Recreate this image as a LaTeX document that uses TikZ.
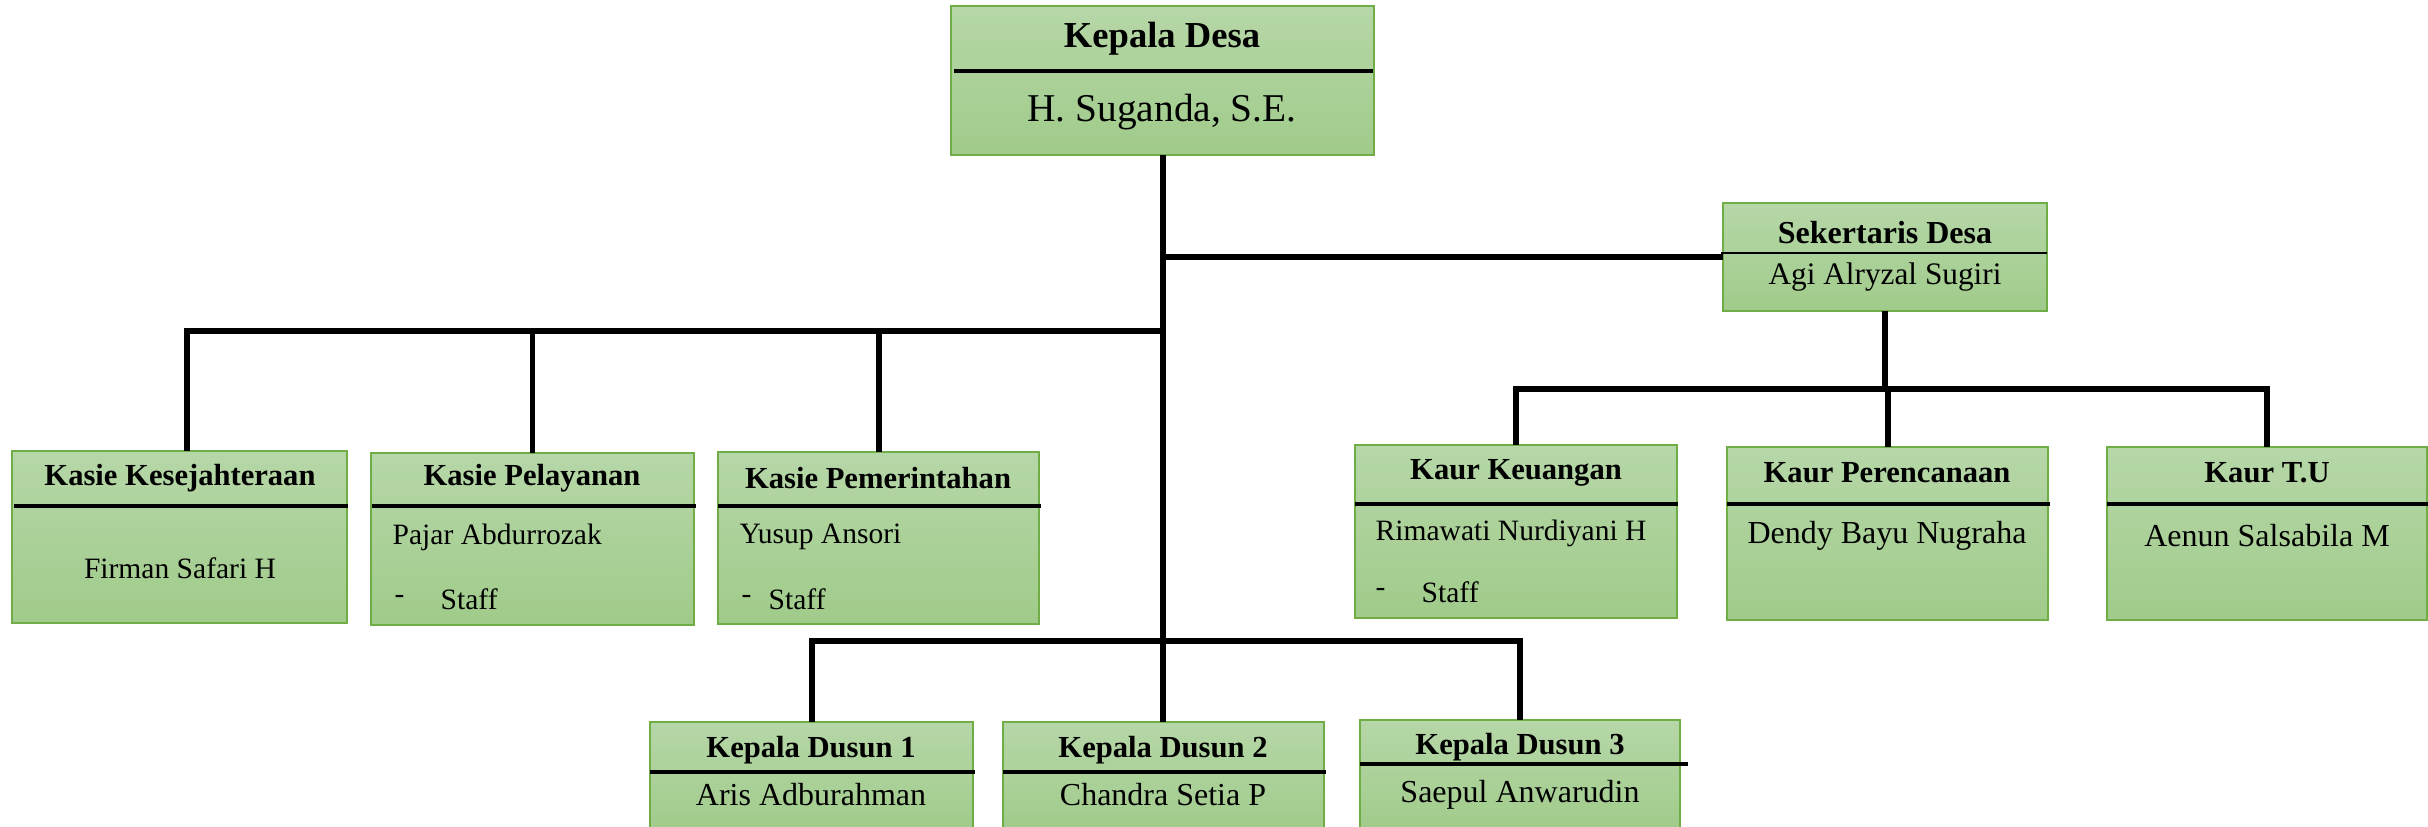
\documentclass[tikz,border=0pt]{standalone}
\usepackage{fontspec}
\setmainfont{Liberation Serif}
\usepackage{tikz}
\definecolor{boxtop}{RGB}{182,215,168}
\definecolor{boxbot}{RGB}{160,203,138}
\definecolor{boxedge}{RGB}{112,173,71}
\tikzstyle{unit}=[
    rectangle,
    draw=boxedge,
    line width=0.45pt,
    top color=boxtop,
    bottom color=boxbot,
    inner sep=0pt,
    outer sep=0pt]
\tikzstyle{link}=[draw=black, line width=1.7pt]
\tikzstyle{rule}=[draw=black, line width=0.95pt]
\tikzstyle{head}=[inner sep=0pt, text=black, font=\bfseries\fontsize{8.7}{10}\selectfont]
\tikzstyle{who}=[inner sep=0pt, text=black, font=\fontsize{8.4}{10}\selectfont]
\tikzstyle{whoc}=[who, font=\fontsize{9.1}{11}\selectfont]

\begin{document}
\begin{tikzpicture}[x=0.01cm, y=-0.01cm]
    \useasboundingbox (0,0) rectangle (2428,826);
    \clip (0,0) rectangle (2428,826);

    % kepala desa
    \node[unit, minimum width=4.23cm, minimum height=1.49cm] (kades) at (1162.5,80.5) {};
    \draw[rule, line width=1.15pt] (954,71) -- (1373,71);
    \node[head, font=\bfseries\fontsize{10.4}{12}\selectfont] (kadesT) at (1162,39) {Kepala Desa};
    \node[who, font=\fontsize{11.2}{13}\selectfont] (kadesN) at (1162,112) {H. Suganda, S.E.};

    % sekertaris desa
    \node[unit, minimum width=3.24cm, minimum height=1.08cm] (sekdes) at (1885,257) {};
    \draw[rule, line width=0.7pt] (1721,253) -- (2047,253);
    \node[head, font=\bfseries\fontsize{9.1}{11}\selectfont] (sekdesT) at (1885,233) {Sekertaris Desa};
    \node[who, font=\fontsize{8.9}{11}\selectfont] (sekdesN) at (1885,277) {Agi Alryzal Sugiri};

    % kasie
    \node[unit, minimum width=3.35cm, minimum height=1.72cm] (kes) at (179.5,537) {};
    \draw[rule] (14,506) -- (348,506);
    \node[head] (kesT) at (180,478) {Kasie Kesejahteraan};
    \node[who] (kesN) at (180,568) {Firman Safari H};

    \node[unit, minimum width=3.23cm, minimum height=1.72cm] (pel) at (532.5,539) {};
    \draw[rule] (372,506) -- (696,506);
    \node[head] (pelT) at (532,478) {Kasie Pelayanan};
    \node[who, anchor=west] (pelN) at (392,537) {Pajar Abdurrozak};
    \node[who, anchor=west] (pelD) at (394,599) {-};
    \node[who, anchor=west] (pelS) at (440,599) {Staff};

    \node[unit, minimum width=3.21cm, minimum height=1.72cm] (pem) at (878.5,538) {};
    \draw[rule] (718,506) -- (1041,506);
    \node[head] (pemT) at (878,478) {Kasie Pemerintahan};
    \node[who, anchor=west] (pemN) at (739,537) {Yusup Ansori};
    \node[who, anchor=west] (pemD) at (741,599) {-};
    \node[who, anchor=west] (pemS) at (768,599) {Staff};

    % kaur
    \node[unit, minimum width=3.22cm, minimum height=1.73cm] (keu) at (1516,531.5) {};
    \draw[rule] (1355,504) -- (1678,504);
    \node[head] (keuT) at (1516,473) {Kaur Keuangan};
    \node[who, anchor=west] (keuN) at (1375,533) {Rimawati Nurdiyani H};
    \node[who, anchor=west] (keuD) at (1375,592) {-};
    \node[who, anchor=west] (keuS) at (1421,592) {Staff};

    \node[unit, minimum width=3.21cm, minimum height=1.73cm] (per) at (1887.5,533.5) {};
    \draw[rule] (1727,504) -- (2050,504);
    \node[head] (perT) at (1887,473) {Kaur Perencanaan};
    \node[whoc] (perN) at (1887,536) {Dendy Bayu Nugraha};

    \node[unit, minimum width=3.20cm, minimum height=1.73cm] (tu) at (2267,533.5) {};
    \draw[rule] (2107,504) -- (2428,504);
    \node[head] (tuT) at (2267,473) {Kaur T.U};
    \node[whoc] (tuN) at (2267,536) {Aenun Salsabila M};

    % kepala dusun
    \node[unit, minimum width=3.23cm, minimum height=1.10cm] (dus1) at (811.5,777) {};
    \draw[rule] (650,772) -- (975,772);
    \node[head] (dus1T) at (811,750) {Kepala Dusun 1};
    \node[whoc] (dus1N) at (811,795) {Aris Adburahman};

    \node[unit, minimum width=3.21cm, minimum height=1.10cm] (dus2) at (1163.5,777) {};
    \draw[rule] (1003,772) -- (1326,772);
    \node[head] (dus2T) at (1163,750) {Kepala Dusun 2};
    \node[whoc] (dus2N) at (1163,795) {Chandra Setia P};

    \node[unit, minimum width=3.20cm, minimum height=1.12cm] (dus3) at (1520,776) {};
    \draw[rule] (1360,764) -- (1688,764);
    \node[head] (dus3T) at (1520,747) {Kepala Dusun 3};
    \node[whoc] (dus3N) at (1520,795) {Saepul Anwarudin};

    % garis
    \coordinate (barL) at (1162,331);
    \coordinate (barR) at (1885,389);
    \coordinate (barB) at (1162,641);
    \draw[link] (kades.south) -- (kades.south |- dus2.north);
    \draw[link] (kades.south |- sekdes.west) -- (sekdes.west);
    \draw[link] ([xshift=0.075cm]kes.north) |- (barL);
    \draw[link] (pel.north) -- (pel.north |- barL);
    \draw[link] (pem.north) -- (pem.north |- barL);
    \draw[link] (sekdes.south) -- (barR);
    \draw[link] (keu.north) |- (tu.north |- barR) -- (tu.north);
    \draw[link] (per.north) -- (per.north |- barR);
    \draw[link] (dus1.north) |- (dus3.north |- barB) -- (dus3.north);
\end{tikzpicture}
\end{document}
